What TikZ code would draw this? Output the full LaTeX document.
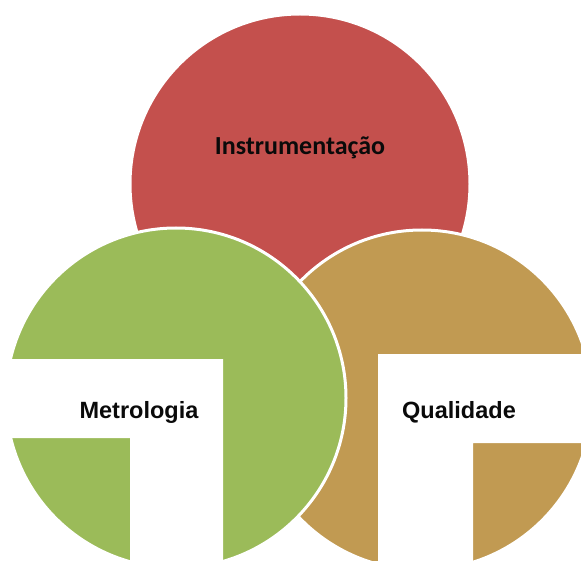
\documentclass[tikz,border=0pt]{standalone}
\usepackage{fontspec}
\setmainfont{Liberation Sans}
\newfontfamily\calfont{Carlito}
\usetikzlibrary{positioning}
\definecolor{circRed}{HTML}{C4504D}
\definecolor{circGreen}{HTML}{9BBB59}
\definecolor{circTan}{HTML}{C19A52}
\definecolor{inkBlack}{HTML}{0A0A0A}

\begin{document}
\begin{tikzpicture}[
  x=1pt, y=-1pt,
  line width=3pt,
  % --- Reusable styles -------------------------------------------------------
  area/.style={                  % overlapping disc, colour via #1
    circle, draw=white, fill=#1, minimum size=340pt, inner sep=0pt,
  },
  gap/.style={fill=white, draw=none},   % white frames behind labels
  lbl/.style={font=\bfseries\fontsize{23.5}{26}\selectfont, text=inkBlack,
    anchor=base, inner sep=0pt},
  toplbl/.style={font=\calfont\bfseries\fontsize{26}{30}\selectfont,
    text=inkBlack, anchor=base, inner sep=0pt},
]
\useasboundingbox (0,0) rectangle (581,561);

% --- Discs -------------------------------------------------------------------
\node[area=circRed]   (instr) at (300,184) {};
\node[area=circTan]   (qual)  at (422,400) {};
\node[area=circGreen] (metro) at (176,398) {};

% --- White label frames ------------------------------------------------------
\fill[gap] (0,359) -- (223,359) -- (223,561) -- (130,561) -- (130,438)
  -- (0,438) -- cycle;
\fill[gap] (378,354) -- (581,354) -- (581,443) -- (473,443) -- (473,561)
  -- (378,561) -- cycle;

% --- Labels ------------------------------------------------------------------
\node[toplbl] (tinstr) at (300,155) {Instrumentação};
\node[lbl]    (tmetro) at (139,418) {Metrologia};
\node[lbl]    (tqual)  at (459,418) {Qualidade};

\end{tikzpicture}
\end{document}
